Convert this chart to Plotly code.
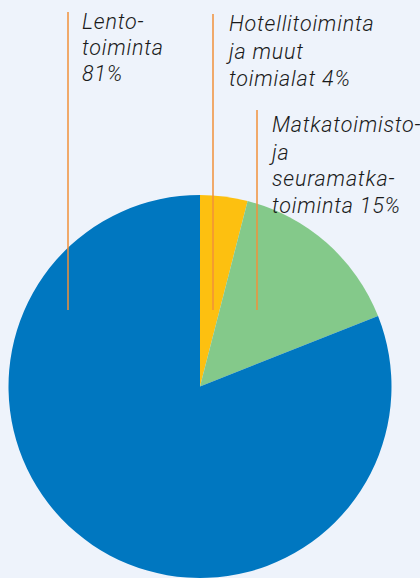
import plotly.graph_objects as go

W, H = 420, 578

labels = ["Hotellitoiminta ja muut toimialat", "Matkatoimisto- ja seuramatkatoiminta", "Lentotoiminta"]
values = [4, 15, 81]
colors = ["#FDC010", "#84C98A", "#0077C0"]

label_lines = [
    ["Lento-", "toiminta", "81%"],
    ["Hotellitoiminta", "ja muut", "toimialat 4%"],
    ["Matkatoimisto-", "ja", "seuramatka-", "toiminta 15%"],
]

fig = go.Figure(go.Pie(
    labels=labels, values=values, sort=False, direction="clockwise", rotation=0,
    marker=dict(colors=colors, line=dict(width=0)),
    textinfo="none", hoverinfo="label+percent", showlegend=False,
    domain=dict(x=[8 / W, 392 / W], y=[0, 383 / H]),
))

def px(x):
    return x / W

def py(y):
    return 1 - y / H

# leader lines (decorative)
lines = [(68, 12, 310), (213, 14, 310), (257, 110, 310)]
for x, y0, y1 in lines:
    fig.add_shape(type="line", xref="paper", yref="paper",
                  x0=px(x), x1=px(x), y0=py(y0), y1=py(y1),
                  line=dict(color="#F0903A", width=1.5))

# label block positions: left x, baselines
blocks = [(82, [28, 55, 81]), (229, [31, 58, 85]), (272, [132, 159, 186, 212])]
for (x, baselines), texts in zip(blocks, label_lines):
    for b, t in zip(baselines, texts):
        dx = -3 if t.startswith("j") else 0
        html = '<span style="letter-spacing:0.8px">' + t[:-1] + '</span>' + t[-1]
        fig.add_annotation(xref="paper", yref="paper", x=px(x - 1 + dx), y=py(b - 7),
                           xanchor="left", yanchor="middle", align="left", showarrow=False,
                           text=html, borderpad=0,
                           font=dict(family="Roboto", size=21.5, color="#1A1A1A",
                                     style="italic", weight=300))

fig.update_layout(width=W, height=H, margin=dict(l=0, r=0, t=0, b=0),
                  paper_bgcolor="#EEF3FB", plot_bgcolor="#EEF3FB")

fig.write_html("out.html", config={"displayModeBar": False},
               post_script="document.body.style.margin='0';document.body.style.overflow='hidden';")
